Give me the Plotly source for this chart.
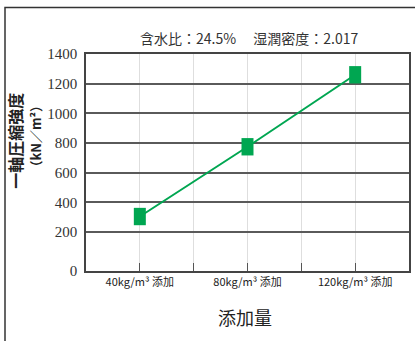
import plotly.graph_objects as go

# Additive dose vs. unconfined compressive strength
categories = ["40kg/m³ 添加", "80kg/m³ 添加", "120kg/m³ 添加"]
strength = [305, 775, 1260]  # kN/m2

y_tick_vals = [-62, 200, 400, 600, 800, 1000, 1200, 1400]
y_tick_text = ["0", "200", "400", "600", "800", "1000", "1200", "1400"]

title_text = "含水比：24.5%　 湿潤密度：2.017"
y_title_1 = "一軸圧縮強度"
y_title_2 = "（kN／m²）"
x_title = "添加量"

GREEN = "#00a651"
JP = "Noto Sans CJK JP"

# each category sits in the middle of its own two-unit slot
x_pos = [2 * i + 1 for i in range(len(categories))]
x_ticks = list(range(1, 2 * len(categories)))
x_tick_text = [categories[(t - 1) // 2] if t % 2 == 1 else "" for t in x_ticks]

W, H = 415, 341
L, R, T, B = 86, 4, 54, 69.5
pw, ph = W - L - R, H - T - B


def px(x):
    return (x - L) / pw


def py(y):
    return (H - B - y) / ph


fig = go.Figure()
fig.add_trace(go.Scatter(
    x=x_pos, y=strength, mode="lines+markers",
    line=dict(color=GREEN, width=2),
    marker=dict(symbol="line-ns", size=12.4, color=GREEN,
                line=dict(color=GREEN, width=12)),
    hoverinfo="skip", showlegend=False,
))

fig.update_layout(
    width=W, height=H,
    margin=dict(l=L, r=R, t=T, b=B, pad=0),
    paper_bgcolor="white", plot_bgcolor="white",
    xaxis=dict(
        range=[0, 2 * len(categories)], tickvals=x_ticks, ticktext=x_tick_text,
        ticks="inside", ticklen=8, tickcolor="#555", tickwidth=1,
        showgrid=True, gridcolor="#dedede", gridwidth=1,
        showline=True, linecolor="#444", linewidth=1.5, mirror=True,
        tickfont=dict(family=JP, size=11, color="#222"),
        zeroline=False, fixedrange=True,
    ),
    yaxis=dict(
        range=[-62, 1400], tickvals=y_tick_vals, ticktext=y_tick_text,
        ticks="", showgrid=True, gridcolor="#5a5a5a", gridwidth=1.5,
        showline=True, linecolor="#444", linewidth=1.5, mirror=True,
        ticklabelstandoff=4, zeroline=False, fixedrange=True,
    ),
    shapes=[dict(
        type="rect", xref="paper", yref="paper",
        x0=px(4.5), x1=px(W + 20), y0=py(7.5), y1=py(H + 20),
        line=dict(color="#333", width=1.5), layer="below",
    )],
    annotations=[
        dict(text=title_text, xref="paper", yref="paper", x=px(250), y=py(38),
             xanchor="center", yanchor="middle", showarrow=False,
             font=dict(family=JP, size=14, color="#333")),
        dict(text=y_title_1, xref="paper", yref="paper", x=px(15), y=py(140.5),
             xanchor="center", yanchor="middle", showarrow=False, textangle=-90,
             font=dict(family=JP, size=16, color="#222", weight="bold")),
        dict(text=y_title_2, xref="paper", yref="paper", x=px(35), y=py(136.5),
             xanchor="center", yanchor="middle", showarrow=False, textangle=-90,
             font=dict(family=JP, size=13, color="#222", weight="bold")),
        dict(text=x_title, xref="paper", yref="paper", x=px(246), y=py(318),
             xanchor="center", yanchor="middle", showarrow=False,
             font=dict(family=JP, size=18, color="#222")),
    ],
)
fig.update_yaxes(tickfont=dict(family="Liberation Serif", size=15, color="#333"))

fig.write_html("out.html")
